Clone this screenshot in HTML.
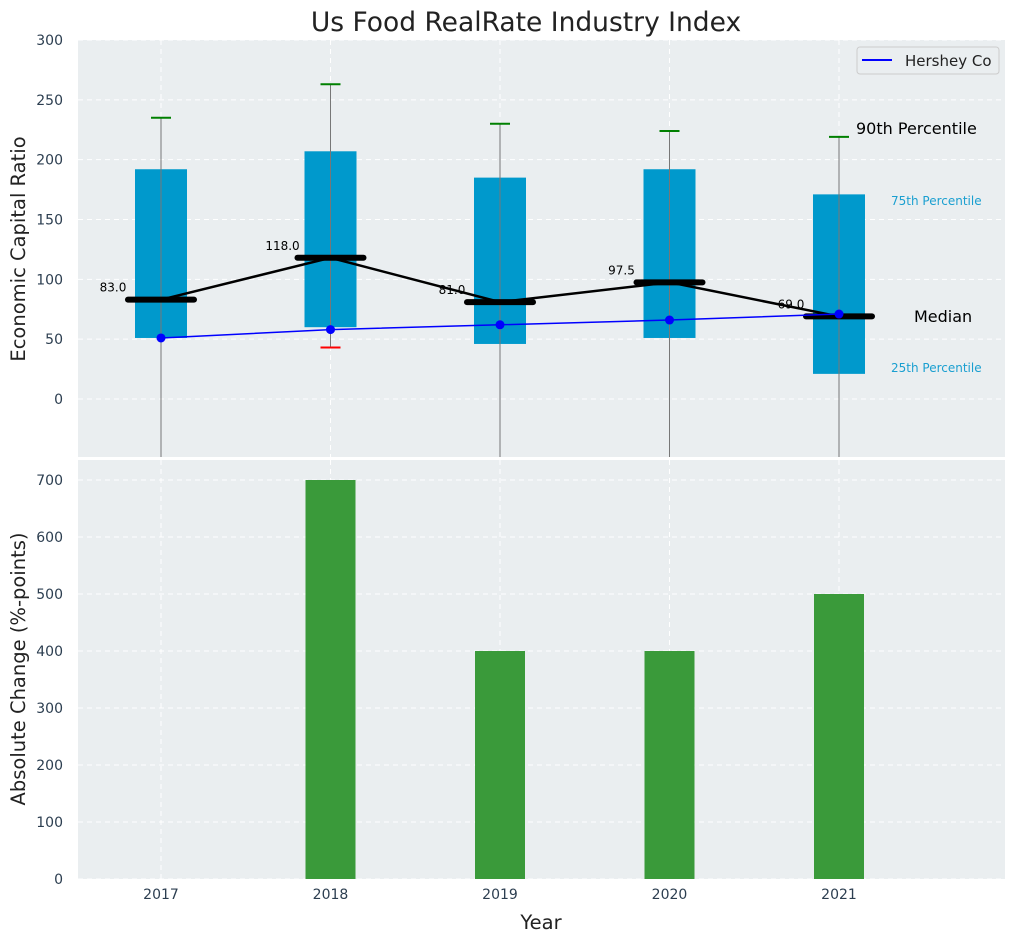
<!DOCTYPE html>
<html><head><meta charset="utf-8">
<style>
body{margin:0;background:#fff;}
svg text{font-family:"DejaVu Sans","Liberation Sans",sans-serif;}
</style></head>
<body>
<svg id="c" width="1016" height="942" xmlns="http://www.w3.org/2000/svg">
<text x="526" y="31" font-size="26.5" text-anchor="middle" fill="#222">Us Food RealRate Industry Index</text>
<text transform="translate(25,249) rotate(-90)" font-size="19.5" text-anchor="middle" fill="#222">Economic Capital Ratio</text>
<text transform="translate(25,669) rotate(-90)" font-size="19.5" text-anchor="middle" fill="#222">Absolute Change (%-points)</text>
<text x="541" y="929" font-size="19.5" text-anchor="middle" fill="#222">Year</text>
<g id="gtop"></g><g id="gbot"></g>
</svg>
<script>
const years=[2017,2018,2019,2020,2021];
const p25=[51,60,46,51,21];
const p75=[192,207,185,192,171];
const p90=[235,263,230,224,219];
const p10=[-80,43,-80,-80,-80];
const medians=[83,118,81,97.5,69];
const hershey=[51,58,62,66,71];
const changes=[0,700,400,400,500];
const topTicks=[0,50,100,150,200,250,300];
const botTicks=[0,100,200,300,400,500,600,700];
(function(){
const NS='http://www.w3.org/2000/svg';
const L=78,R=1005;
const xs=y=>161+(y-2017)*169.5;
const yt=v=>399-v*359/300;
const yb=v=>879-v*0.57;
function mk(p,t,a){const e=document.createElementNS(NS,t);for(const k in a)e.setAttribute(k,a[k]);p.appendChild(e);return e;}
const gT=document.getElementById('gtop'),gB=document.getElementById('gbot');
let bg=mk(gT,'rect',{x:L,y:40,width:R-L,height:417,fill:'#eaeef0'});


let bg2=mk(gB,'rect',{x:L,y:460,width:R-L,height:419,fill:'#eaeef0'});


topTicks.forEach(v=>{const y=yt(v);
 mk(gT,'line',{x1:L,x2:R,y1:y,y2:y,stroke:'#fff','stroke-dasharray':'5,4','stroke-width':1});
 const t=mk(gT,'text',{x:L-15,y:y+5,'font-size':14,'text-anchor':'end',fill:'#2c3e50'});t.textContent=v;
 
 });
botTicks.forEach(v=>{const y=yb(v);
 mk(gB,'line',{x1:L,x2:R,y1:y,y2:y,stroke:'#fff','stroke-dasharray':'5,4','stroke-width':1});
 const t=mk(gB,'text',{x:L-15,y:y+5,'font-size':14,'text-anchor':'end',fill:'#2c3e50'});t.textContent=v;
 
 });
years.forEach(yr=>{const x=xs(yr);
 mk(gT,'line',{x1:x,x2:x,y1:40,y2:457,stroke:'#fff','stroke-dasharray':'5,4'});
 mk(gB,'line',{x1:x,x2:x,y1:460,y2:879,stroke:'#fff','stroke-dasharray':'5,4'});
 const t=mk(gB,'text',{x:x,y:899,'font-size':14,'text-anchor':'middle',fill:'#2c3e50'});t.textContent=yr;
 
 });
years.forEach((yr,i)=>{const x=xs(yr);
 const b=mk(gT,'rect',{x:x-26,y:yt(p75[i]),width:52,height:yt(p25[i])-yt(p75[i]),fill:'#0099cc'});
 
 
 mk(gT,'line',{x1:x,x2:x,y1:yt(p90[i]),y2:Math.min(457,yt(p10[i])),stroke:'#777','stroke-width':1});
 const c=mk(gT,'line',{x1:x-10,x2:x+10,y1:yt(p90[i]),y2:yt(p90[i]),stroke:'green','stroke-width':2});
 
 
 if(yt(p10[i])<457){const d=mk(gT,'line',{x1:x-10,x2:x+10,y1:yt(p10[i]),y2:yt(p10[i]),stroke:'red','stroke-width':2});
 
 }
});
const mp=mk(gT,'polyline',{points:years.map((y,i)=>xs(y)+','+yt(medians[i])).join(' '),fill:'none',stroke:'#000','stroke-width':2.5});


years.forEach((yr,i)=>{const x=xs(yr),y=yt(medians[i]);
 const m=mk(gT,'line',{x1:x-33,x2:x+33,y1:y,y2:y,stroke:'#000','stroke-width':6,'stroke-linecap':'round'});
 
 
 const t=mk(gT,'text',{x:x-48,y:y-8,'font-size':12,'text-anchor':'middle',fill:'#000'});t.textContent=medians[i].toFixed(1);
 
 });
const hp=mk(gT,'polyline',{points:years.map((y,i)=>xs(y)+','+yt(hershey[i])).join(' '),fill:'none',stroke:'#0000ff','stroke-width':1.5});


years.forEach((yr,i)=>{const p=mk(gT,'circle',{cx:xs(yr),cy:yt(hershey[i]),r:4.5,fill:'#0000ff'});
 
 });
[[856,134,16,'#000','90th Percentile'],[891,205,12,'#1a9fd0','75th Percentile'],[914,322,16,'#000','Median'],[891,372,12,'#1a9fd0','25th Percentile']].forEach(a=>{
 const t=mk(gT,'text',{x:a[0],y:a[1],'font-size':a[2],fill:a[3]});t.textContent=a[4];
 
 });
const lg=mk(gT,'g',{});


mk(lg,'rect',{x:857,y:47,width:142,height:27,rx:3,fill:'#eaeef0',stroke:'#ccc'});
mk(lg,'line',{x1:862,x2:892,y1:60,y2:60,stroke:'#0000ff','stroke-width':2});
const lt=mk(lg,'text',{x:905,y:66,'font-size':15,fill:'#222'});lt.textContent='Hershey Co';
years.forEach((yr,i)=>{if(!changes[i])return;const x=xs(yr);
 const b=mk(gB,'rect',{x:x-25,y:yb(changes[i]),width:50,height:yb(0)-yb(changes[i]),fill:'#3a9a3a'});
 
 });
})();
</script>
</body></html>
